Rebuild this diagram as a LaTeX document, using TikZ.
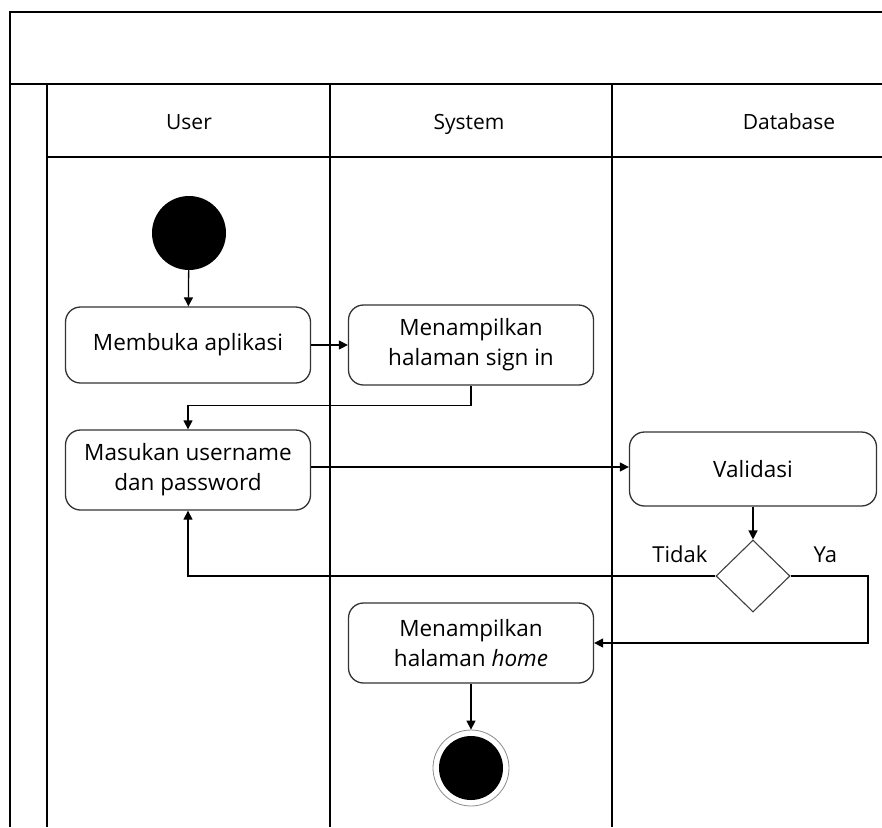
\documentclass[tikz,border=0pt]{standalone}
\usepackage{fontspec}
\setmainfont{Open Sans}
\usetikzlibrary{arrows.meta,shapes.geometric}
\begin{document}
\begin{tikzpicture}[x=1pt,y=-1pt,
  frame/.style={line width=1.6pt,black},
  act/.style={draw=black!80,line width=1.3pt,rounded corners=15pt,minimum width=245pt,minimum height=76pt,align=center,font=\fontsize{22.5}{30}\selectfont,inner sep=2pt},
  flow/.style={line width=1.3pt,-{Triangle[length=9pt,width=9pt]}},
  lbl/.style={font=\fontsize{21}{24}\selectfont},
  dlbl/.style={font=\fontsize{22}{24}\selectfont}]
\useasboundingbox (0,0) rectangle (882,827);
\fill[white] (0,0) rectangle (882,827);
% frame
\draw[frame] (10,827) -- (10,12) -- (882,12);
\draw[frame] (10,84) -- (882,84);
\draw[frame] (47,157) -- (882,157);
\draw[frame] (47,84) -- (47,827);
\draw[frame] (330,84) -- (330,827);
\draw[frame] (612,84) -- (612,827);
\node[lbl,anchor=base] (hUser) at (189,129) {User};
\node[lbl,anchor=base] (hSys) at (469,129) {System};
\node[lbl,anchor=base] (hDb) at (789,129) {Database};
% nodes
\node[circle,fill=black,minimum size=74pt,inner sep=0pt] (start) at (189,233) {};
\node[act] (buka) at (188,345) {Membuka aplikasi};
\node[act,minimum height=80pt] (signin) at (471,345) {Menampilkan\\halaman sign in};
\node[act,minimum height=80pt] (masuk) at (188,470) {Masukan username\\dan password};
\node[act,minimum width=247pt,minimum height=74pt] (valid) at (753,469) {Validasi};
\node[diamond,draw=black!75,line width=1.1pt,minimum width=74pt,minimum height=72pt,inner sep=0pt] (dec) at (753,576) {};
\node[act,minimum height=80pt] (home) at (471,643) {Menampilkan\\halaman \textit{home}};
\node[circle,draw=black!45,line width=0.8pt,minimum size=76pt,inner sep=0pt] (endo) at (471,768) {};
\node[circle,fill=black,minimum size=64pt,inner sep=0pt] (endi) at (471,768) {};
\node[dlbl,anchor=base east] (tidak) at (711,562) {Tidak};
\node[dlbl,anchor=base west] (ya) at (810,562) {Ya};
% flows
\draw[flow] (start) -- (buka);
\draw[flow] (buka) -- (signin);
\draw[flow] (signin.south) -- ++(0,20) -| (masuk.north);
\draw[flow] (masuk.east |- 0,467) -- (valid.west |- 0,467);
\draw[flow] (valid) -- (dec);
\draw[flow] (dec.west) -| (masuk.south);
\draw[flow] (dec.east) -- (868,576) |- (home.east);
\draw[flow] (home) -- (endo);
\end{tikzpicture}
\end{document}
